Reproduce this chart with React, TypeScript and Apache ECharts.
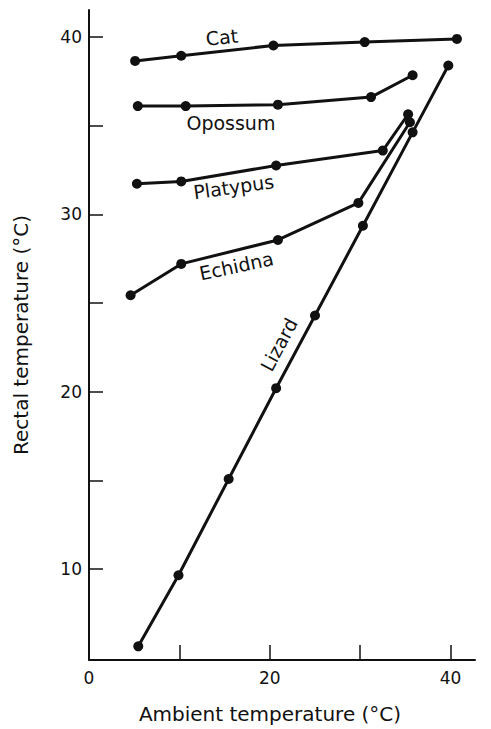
import React, { useEffect, useRef } from "react";
import * as echarts from "echarts";

// Ambient vs rectal temperature (°C) for five animals
const catAmbient = [5.1, 10.2, 20.4, 30.5, 40.7];
const catRectal = [38.66, 38.95, 39.53, 39.72, 39.9];

const opossumAmbient = [5.4, 10.7, 20.9, 31.2, 35.8];
const opossumRectal = [36.11, 36.11, 36.19, 36.62, 37.85];

const platypusAmbient = [5.3, 10.2, 20.7, 32.5, 35.3];
const platypusRectal = [31.73, 31.86, 32.76, 33.6, 35.65];

const echidnaAmbient = [4.6, 10.2, 20.9, 29.8, 35.5];
const echidnaRectal = [25.44, 27.21, 28.56, 30.65, 35.2];

const lizardAmbient = [5.45, 9.9, 15.45, 20.7, 25.0, 30.3, 35.8, 39.75];
const lizardRectal = [5.64, 9.65, 15.08, 20.2, 24.3, 29.36, 34.63, 38.4];

const xTicks = [10, 20, 30, 40];
const xTickLabels = [0, 20, 40];
const yTicks = [10, 15, 20, 25, 30, 35, 40];
const yTickLabels = [10, 20, 30, 40];

// Series name labels: [text, ambient, rectal, rotation in degrees]
const seriesLabels: [string, number, number, number][] = [
  ["Cat", 14.7, 40.0, 6],
  ["Opossum", 15.7, 35.15, 0],
  ["Platypus", 16.0, 31.56, 8],
  ["Echidna", 16.3, 27.1, 12],
  ["Lizard", 21.0, 22.66, 62],
];

const FONT = "'DejaVu Sans', Verdana, sans-serif";
const INK = "#111";

const zip = (xs: number[], ys: number[]) => xs.map((x, i) => [x, ys[i]]);

export default function App() {
  const ref = useRef<HTMLDivElement>(null);

  useEffect(() => {
    if (!ref.current) return;
    const chart = echarts.init(ref.current, null, { renderer: "svg" });

    const lineSeries = (name: string, xs: number[], ys: number[]) => ({
      name,
      type: "line",
      data: zip(xs, ys),
      symbol: "circle",
      symbolSize: 10,
      lineStyle: { color: INK, width: 3 },
      itemStyle: { color: INK },
      z: 3,
    });

    chart.setOption({
      animation: false,
      backgroundColor: "#fff",
      textStyle: { fontFamily: FONT },
      grid: { left: 89, right: 16, top: 10, bottom: 64 },
      xAxis: {
        type: "value",
        min: 0,
        max: 42.7,
        interval: 10,
        splitLine: { show: false },
        axisLine: { lineStyle: { color: INK, width: 2 } },
        axisTick: {
          inside: true,
          length: 15,
          customValues: xTicks,
          lineStyle: { color: INK, width: 1.5 },
        },
        axisLabel: {
          customValues: xTickLabels,
          color: INK,
          fontSize: 17,
          margin: 9,
          fontFamily: FONT,
        },
        name: "Ambient temperature (°C)",
        nameLocation: "middle",
        nameGap: 44,
        nameTextStyle: { color: INK, fontSize: 20, fontFamily: FONT, padding: [0, 24, 0, 0] },
      },
      yAxis: {
        type: "value",
        min: 4.87,
        max: 41.53,
        splitLine: { show: false },
        axisLine: { lineStyle: { color: INK, width: 2 } },
        axisTick: {
          inside: true,
          length: 14,
          customValues: yTicks,
          lineStyle: { color: INK, width: 1.5 },
        },
        axisLabel: {
          customValues: yTickLabels,
          color: INK,
          fontSize: 17,
          margin: 7,
          fontFamily: FONT,
        },
        name: "Rectal temperature (°C)",
        nameLocation: "middle",
        nameGap: 58,
        nameTextStyle: { color: INK, fontSize: 20, fontFamily: FONT },
      },
      series: [
        lineSeries("Cat", catAmbient, catRectal),
        lineSeries("Opossum", opossumAmbient, opossumRectal),
        lineSeries("Platypus", platypusAmbient, platypusRectal),
        lineSeries("Echidna", echidnaAmbient, echidnaRectal),
        lineSeries("Lizard", lizardAmbient, lizardRectal),
      ],
    });

    // Place the animal names next to their curves, in data coordinates
    const graphic = seriesLabels.map(([text, x, y, rot]) => {
      const [px, py] = chart.convertToPixel({ gridIndex: 0 }, [x, y]) as number[];
      return {
        type: "text",
        x: px,
        y: py,
        rotation: (rot * Math.PI) / 180,
        style: {
          text,
          fill: INK,
          font: `19px ${FONT}`,
          align: "center",
          verticalAlign: "middle",
        },
        z: 10,
      };
    });
    chart.setOption({ graphic });

    return () => chart.dispose();
  }, []);

  return <div ref={ref} style={{ width: 491, height: 729, position: "absolute", left: 0, top: 0 }} />;
}
